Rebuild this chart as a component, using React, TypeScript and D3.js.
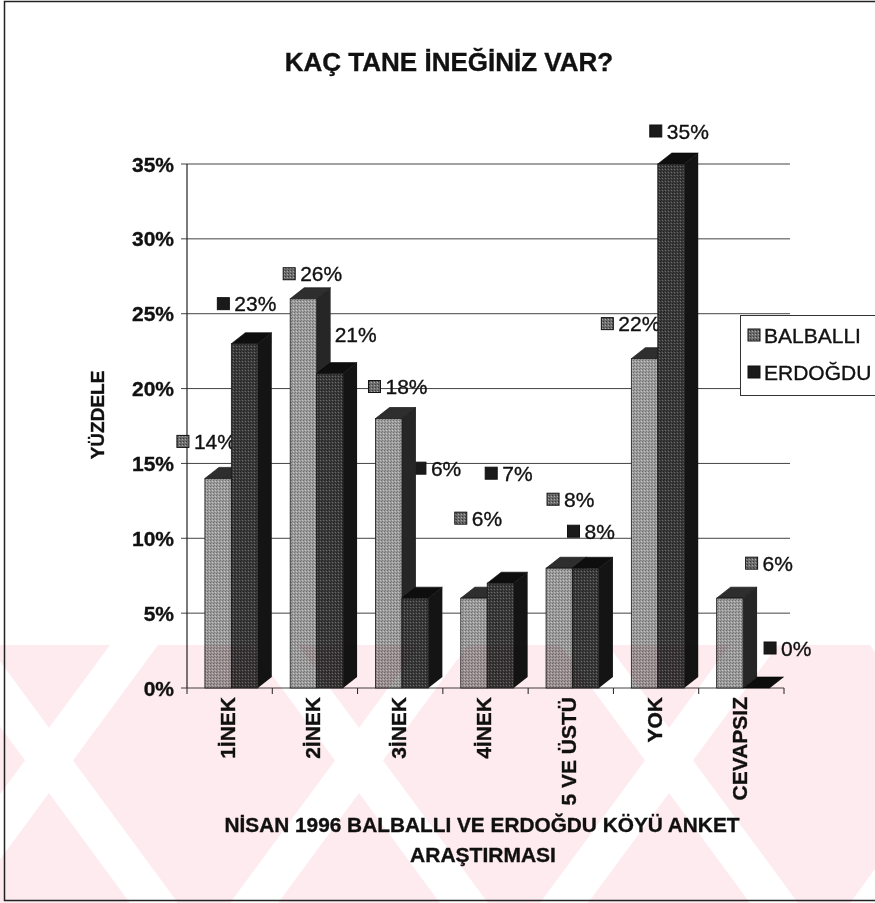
import * as d3 from "d3";

// survey answers, percent of households
const categories = ["1İNEK", "2İNEK", "3İNEK", "4İNEK", "5 VE ÜSTÜ", "YOK", "CEVAPSIZ"];
const balballi = [14, 26, 18, 6, 8, 22, 6];
const erdogdu = [23, 21, 6, 7, 8, 35, 0];
const seriesNames = ["BALBALLI", "ERDOĞDU"];
const yTicks = [0, 5, 10, 15, 20, 25, 30, 35];

// label placement (Excel moved some labels around), relative to the bar top
const balLabelDx = [-28, -7, -7, -6, 1, -30, 29];
const balLabelLift = [37, 25, 32, 80, 69, 35, 35];
const erdLabelDx = [-14, 1, 12, -2, -5, -8, 21];
const erdLabelLift = [40, 39, 130, 110, 37, 33, 40];

const width = 875;
const height = 903;
const font = "'Liberation Sans', Arial, sans-serif";

const left = 187;
const right = 784;
const top = 164;
const bottom = 688;
const depthX = 14;
const depthY = 11;

const x = d3.scaleBand(categories, [left, right]);
const y = d3.scaleLinear([0, 35], [bottom, top]);
const barW = x.bandwidth() * 0.31;
const barOff = x.bandwidth() * 0.21;

const styles = [
  { front: "url(#balFront)", top: "#2e2e2e", side: "#262626", key: "url(#balKey)" },
  { front: "url(#erdFront)", top: "#0e0e0e", side: "#141414", key: "#1a1a1a" },
];

const ink = { fill: "#111", stroke: "#111", strokeWidth: 0.35 };

const Bar3D = ({ x0, v, s }: { x0: number; v: number; s: number }) => {
  const yv = y(v);
  const y0 = y(0);
  const st = styles[s];
  const topFace = [
    [x0, yv],
    [x0 + depthX, yv - depthY],
    [x0 + barW + depthX, yv - depthY],
    [x0 + barW, yv],
  ];
  const sideFace = [
    [x0 + barW, yv],
    [x0 + barW + depthX, yv - depthY],
    [x0 + barW + depthX, y0 - depthY],
    [x0 + barW, y0],
  ];
  return (
    <g>
      <polygon points={sideFace.join(" ")} fill={st.side} />
      <polygon points={topFace.join(" ")} fill={st.top} stroke="#000" strokeWidth={0.6} />
      <rect x={x0} y={yv} width={barW} height={y0 - yv} fill={st.front} stroke="#1a1a1a" strokeWidth={0.8} />
    </g>
  );
};

const Label = ({ kx, cy, v, s }: { kx: number; cy: number; v: number; s: number }) => (
  <g>
    <rect x={kx} y={cy - 6} width={12} height={12} fill={styles[s].key} stroke="#111" strokeWidth={1} />
    <text x={kx + 17} y={cy} dominantBaseline="central" fontSize={21} {...ink}>
      {v}%
    </text>
  </g>
);

// faint pink watermark from the scanned page
const wmTop = 645;
const wmBands = [-60, 250, 560, 870].map((s) => [
  [s, wmTop],
  [s + 48, wmTop],
  [s + 238, height],
  [s + 190, height],
]);
const wmBands2 = [110, 420, 730, 1040].map((s) => [
  [s, wmTop],
  [s + 48, wmTop],
  [s - 142, height],
  [s - 190, height],
]);

const App = () => {
  const series = [balballi, erdogdu];
  const dx = [balLabelDx, erdLabelDx];
  const lift = [balLabelLift, erdLabelLift];

  return (
    <svg
      width={width}
      height={height}
      style={{ position: "absolute", left: 0, top: 0, background: "#fff" }}
      fontFamily={font}
    >
      <defs>
        <pattern id="balFront" width={3} height={3} patternUnits="userSpaceOnUse">
          <rect width={3} height={3} fill="#9c9c9c" />
          <rect x={0} y={0} width={1} height={1} fill="#6e6e6e" />
          <rect x={2} y={1} width={1} height={1} fill="#c4c4c4" />
          <rect x={1} y={2} width={1} height={1} fill="#7a7a7a" />
        </pattern>
        <pattern id="balKey" width={3} height={3} patternUnits="userSpaceOnUse">
          <rect width={3} height={3} fill="#6c6c6c" />
          <rect x={0} y={0} width={1} height={1} fill="#3a3a3a" />
          <rect x={2} y={1} width={1} height={1} fill="#a8a8a8" />
        </pattern>
        <pattern id="erdFront" width={3} height={3} patternUnits="userSpaceOnUse">
          <rect width={3} height={3} fill="#3c3c3c" />
          <rect x={0} y={0} width={1} height={1} fill="#1e1e1e" />
          <rect x={2} y={1} width={1} height={1} fill="#6a6a6a" />
          <rect x={1} y={2} width={1} height={1} fill="#262626" />
        </pattern>
        <mask id="wmMask">
          <rect x={0} y={wmTop} width={width} height={height - wmTop} fill="#fff" />
          {[...wmBands, ...wmBands2].map((p, i) => (
            <polygon key={i} points={p.join(" ")} fill="#000" />
          ))}
        </mask>
      </defs>

      <rect x={4.5} y={1.5} width={880} height={899} fill="none" stroke="#222" strokeWidth={1.5} />

      <text x={449} y={71} textAnchor="middle" fontSize={26} fontWeight="bold" {...ink}>
        KAÇ TANE İNEĞİNİZ VAR?
      </text>

      {/* gridlines + y axis */}
      {yTicks.map((t) => (
        <g key={t}>
          <line x1={181} x2={t === 0 ? right : 790} y1={y(t)} y2={y(t)} stroke="#444" strokeWidth={1} />
          <text x={174} y={y(t)} textAnchor="end" dominantBaseline="central" fontSize={21} fontWeight="bold" {...ink}>
            {t}%
          </text>
        </g>
      ))}
      <line x1={left} x2={left} y1={top} y2={bottom} stroke="#222" strokeWidth={1.2} />

      <text
        transform={`translate(97,415) rotate(-90)`}
        textAnchor="middle"
        dominantBaseline="central"
        fontSize={19}
        fontWeight="bold"
        {...ink}
      >
        YÜZDELE
      </text>

      {/* x axis ticks and labels */}
      {[...categories.map((c) => x(c)!), right].map((t, i) => (
        <line key={i} x1={t} x2={t} y1={bottom} y2={bottom + 6} stroke="#222" strokeWidth={1} />
      ))}
      {categories.map((c) => (
        <text
          key={c}
          transform={`translate(${x(c)! + x.bandwidth() / 2 - 2},697) rotate(-90)`}
          textAnchor="end"
          dominantBaseline="central"
          fontSize={21}
          fontWeight="bold"
          {...ink}
        >
          {c}
        </text>
      ))}

      {/* data labels sit behind the bars */}
      {series.map((vals, s) =>
        vals.map((v, i) => {
          const x0 = x(categories[i])! + barOff + s * barW;
          return <Label key={`${s}-${i}`} kx={x0 + dx[s][i]} cy={y(v) - lift[s][i]} v={v} s={s} />;
        })
      )}

      {categories.map((c, i) => (
        <g key={c}>
          {series.map((vals, s) => (
            <Bar3D key={s} x0={x(c)! + barOff + s * barW} v={vals[i]} s={s} />
          ))}
        </g>
      ))}

      {/* legend */}
      <rect x={740.5} y={315.5} width={140} height={80} fill="#fff" stroke="#333" strokeWidth={1} />
      {seriesNames.map((n, s) => (
        <g key={n}>
          <rect x={748} y={329 + s * 37} width={12} height={12} fill={styles[s].key} stroke="#111" />
          <text x={764} y={335 + s * 37} dominantBaseline="central" fontSize={21} {...ink}>
            {n}
          </text>
        </g>
      ))}

      <text x={482} y={832} textAnchor="middle" fontSize={21} fontWeight="bold" textLength={515} lengthAdjust="spacingAndGlyphs" {...ink}>
        NİSAN 1996 BALBALLI VE ERDOĞDU KÖYÜ ANKET
      </text>
      <text x={483} y={862} textAnchor="middle" fontSize={21} fontWeight="bold" {...ink}>
        ARAŞTIRMASI
      </text>

      <rect
        x={0}
        y={wmTop}
        width={width}
        height={height - wmTop}
        fill="#fdebef"
        mask="url(#wmMask)"
        style={{ mixBlendMode: "multiply" }}
      />
    </svg>
  );
};

export default App;
